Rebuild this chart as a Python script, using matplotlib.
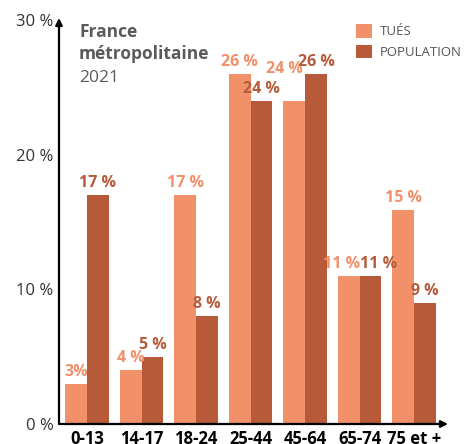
import numpy as np
import matplotlib.pyplot as plt

plt.rcParams['font.family'] = ['Open Sans', 'DejaVu Sans']

# data
groups = ['0-13', '14-17', '18-24', '25-44', '45-64', '65-74', '75 et +']
tues = [3.0, 4.0, 17.0, 26.0, 24.0, 11.0, 15.9]
population = [17.0, 5.0, 8.0, 24.0, 26.0, 11.0, 9.0]
tues_labels = ['3%', '4 %', '17 %', '26 %', '24 %', '11 %', '15 %']
pop_labels = ['17 %', '5 %', '8 %', '24 %', '26 %', '11 %', '9 %']
yticks = [0, 10, 20, 30]

c_tues = '#F2906A'
c_pop = '#B65A3A'

fig = plt.figure(figsize=(4.65, 4.44), dpi=100)
ax = fig.add_axes([59 / 465, 20 / 444, 389 / 465, 404 / 444])

x = np.arange(len(groups))
w = 0.4
b1 = ax.bar(x - w / 2, tues, w, color=c_tues, label='TUÉS')
b2 = ax.bar(x + w / 2, population, w, color=c_pop, label='POPULATION')

lab = dict(va='bottom', fontsize=11.5, fontweight='bold')
for i in range(len(groups)):
    if tues[i] == population[i]:
        # same height: push the two labels apart
        ax.text(x[i], tues[i] + 0.3, tues_labels[i], ha='right', color=c_tues, **lab)
        ax.text(x[i], population[i] + 0.3, pop_labels[i], ha='left', color=c_pop, **lab)
        continue
    dx, dy = 0, 0
    if i > 0 and abs(population[i - 1] - tues[i]) < 1.5:
        # lift the label above the neighbour's label
        dx, dy = -0.18, 1.45
    ax.text(x[i] - w / 2 + dx, tues[i] + 0.3 + dy, tues_labels[i], ha='center',
            color=c_tues, **lab)
    ax.text(x[i] + w / 2, population[i] + 0.3, pop_labels[i], ha='center',
            color=c_pop, **lab)

ax.set_xlim(-0.515, 6.62)
ax.set_ylim(0, 30)
for sp in ax.spines.values():
    sp.set_visible(False)

# axes with arrows
arrow = dict(arrowstyle='-|>', color='black', lw=1.6, mutation_scale=10,
             shrinkA=0, shrinkB=0)
ax.annotate('', xy=(0, 1.005), xytext=(0, 0), xycoords='axes fraction', arrowprops=arrow,
            annotation_clip=False)
ax.annotate('', xy=(1.0, 0), xytext=(0, 0), xycoords='axes fraction', arrowprops=arrow,
            annotation_clip=False)

ax.set_yticks(yticks)
ax.set_yticklabels([f'{t} %' for t in yticks], fontsize=12, color='#333333')
ax.set_xticks(x)
ax.set_xticklabels(groups, fontsize=12, fontweight='bold', color='black')
ax.tick_params(axis='both', length=0)
ax.tick_params(axis='y', pad=4)
ax.tick_params(axis='x', pad=4)

fig.text(79 / 465, 1 - 37 / 444, 'France', fontsize=12.5, fontweight='bold',
         color='#5a5a5a', va='baseline')
fig.text(79 / 465, 1 - 59 / 444, 'métropolitaine', fontsize=12.5, fontweight='bold',
         color='#5a5a5a', va='baseline')
fig.text(79 / 465, 1 - 82 / 444, '2021', fontsize=12.5, color='#5a5a5a', va='baseline')

ax.legend(handles=[b1, b2], loc='upper left', bbox_to_anchor=(356 / 465, 1 - 24 / 444),
          bbox_transform=fig.transFigure, frameon=False, fontsize=9.5,
          borderpad=0, borderaxespad=0,
          handlelength=1.2, handleheight=1.2, labelspacing=0.5, handletextpad=0.6,
          labelcolor='#555555')

fig.savefig('out.png', dpi=100)
